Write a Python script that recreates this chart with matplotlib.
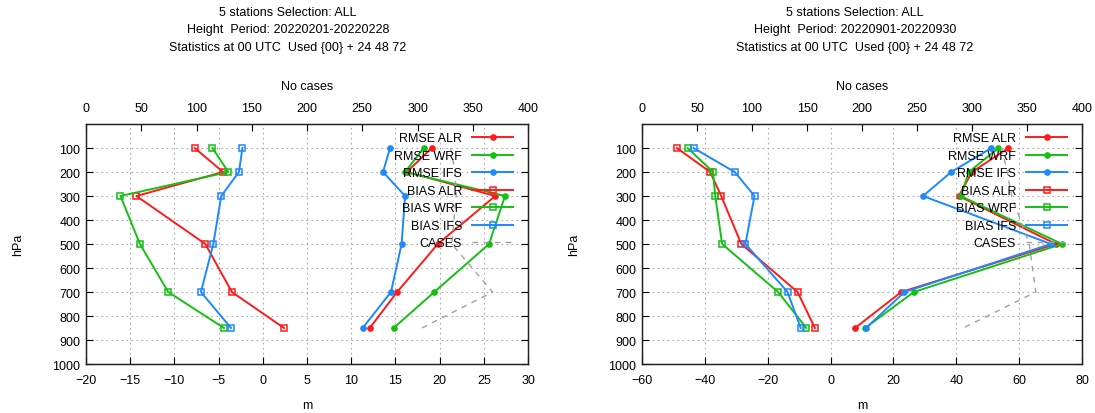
import matplotlib
matplotlib.use("Agg")
import matplotlib.pyplot as plt

plt.rcParams['font.family'] = ['Liberation Sans', 'DejaVu Sans']
plt.rcParams['font.size'] = 9

# pressure levels (hPa)
levels = [100, 200, 300, 500, 700, 850]

# February 2022
feb_rmse_alr = [19.1, 16.3, 26.3, 19.8, 15.2, 12.1]
feb_rmse_wrf = [18.2, 16.1, 27.4, 25.6, 19.4, 14.8]
feb_rmse_ifs = [14.4, 13.6, 16.1, 15.7, 14.5, 11.3]
feb_bias_alr = [-7.7, -4.5, -14.3, -6.5, -3.5, 2.4]
feb_bias_wrf = [-5.7, -3.9, -16.1, -13.9, -10.7, -4.4]
feb_bias_ifs = [-2.3, -2.7, -4.7, -5.6, -7.0, -3.6]
feb_cases = [330, 334, 335, 331, 368, 304]

# September 2022
sep_rmse_alr = [56.6, 45.0, 40.8, 71.7, 22.5, 7.8]
sep_rmse_wrf = [53.4, 44.0, 41.4, 73.6, 26.5, 11.0]
sep_rmse_ifs = [51.2, 38.4, 29.4, 70.1, 23.5, 11.3]
sep_bias_alr = [-48.9, -38.3, -34.8, -28.4, -10.5, -5.0]
sep_bias_wrf = [-45.5, -37.4, -36.7, -34.5, -16.7, -7.7]
sep_bias_ifs = [-43.6, -30.5, -24.2, -27.1, -13.7, -9.5]
sep_cases = [327, 332, 336, 352, 358, 292]

titles = [
    ["5 stations Selection: ALL", "Height  Period: 20220201-20220228",
     "Statistics at 00 UTC  Used {00} + 24 48 72"],
    ["5 stations Selection: ALL", "Height  Period: 20220901-20220930",
     "Statistics at 00 UTC  Used {00} + 24 48 72"],
]

RED, GREEN, BLUE, GRAY = '#ff1a1a', '#14c014', '#1e88ff', '#a0a0a0'

fig = plt.figure(figsize=(10.95, 4.14), dpi=100)

panels = [
    dict(rect=[86 / 1095, 1 - 365 / 414, 442 / 1095, 240 / 414],
         xlim=(-20, 30), xstep=5, title_x=288,
         rmse=(feb_rmse_alr, feb_rmse_wrf, feb_rmse_ifs),
         bias=(feb_bias_alr, feb_bias_wrf, feb_bias_ifs),
         cases=feb_cases, title=titles[0]),
    dict(rect=[642 / 1095, 1 - 365 / 414, 440 / 1095, 240 / 414],
         xlim=(-60, 80), xstep=20, title_x=855,
         rmse=(sep_rmse_alr, sep_rmse_wrf, sep_rmse_ifs),
         bias=(sep_bias_alr, sep_bias_wrf, sep_bias_ifs),
         cases=sep_cases, title=titles[1]),
]

names = ['ALR', 'WRF', 'IFS']
colors = [RED, GREEN, BLUE]

for p in panels:
    ax = fig.add_axes(p['rect'])
    ax2 = ax.twiny()
    handles = []
    for vals, c, n in zip(p['rmse'], colors, names):
        h, = ax.plot(vals, levels, color=c, lw=1.4, marker='o', ms=3.8,
                     label='RMSE ' + n)
        handles.append(h)
    for vals, c, n in zip(p['bias'], colors, names):
        h, = ax.plot(vals, levels, color=c, lw=1.4, marker='s', ms=4.6,
                     mfc='none', mew=1.1, label='BIAS ' + n)
        handles.append(h)
    h, = ax2.plot(p['cases'], levels, color=GRAY, lw=1.0, ls=(0, (4, 4)),
                  label='CASES')
    handles.append(h)

    lo, hi = p['xlim']
    ax.set_xlim(lo, hi)
    ax.set_xticks(range(lo, hi + 1, p['xstep']))
    ax.set_ylim(1000, 0)
    ax.set_yticks(range(100, 1001, 100))
    ax.grid(True, color='#a8a8a8', ls=(0, (1.5, 3)), lw=0.8)
    ax.tick_params(direction='in', length=5, width=0.8, top=False,
                   right=True, pad=7)
    ax.tick_params(axis='y', pad=4)
    ax.set_xlabel('m')
    ax.xaxis.set_label_coords(0.5, -0.145)
    ax.set_ylabel('hPa')
    ax.yaxis.set_label_coords(-0.14, 0.5)

    ax2.set_xlim(0, 400)
    ax2.set_xticks(range(0, 401, 50))
    ax2.tick_params(direction='in', length=5, width=0.8, pad=7)
    ax2.set_xlabel('No cases')
    ax2.xaxis.set_label_coords(0.5, 1.145)

    for a in (ax, ax2):
        for s in a.spines.values():
            s.set_linewidth(0.9)
            s.set_color('#202020')

    # markerfirst=False right-aligns the entries, as gnuplot does
    ax2.legend(handles=handles, loc='upper right',
               bbox_to_anchor=(0.967, 0.965), frameon=False,
               markerfirst=False, handlelength=3.3, handletextpad=0.8,
               labelspacing=0.44, borderaxespad=0, borderpad=0,
               numpoints=1)

    for i, line in enumerate(p['title']):
        fig.text(p['title_x'] / 1095, 1 - (13 + 17.5 * i) / 414, line,
                 ha='center', va='center')

fig.savefig('out.png', dpi=100)
